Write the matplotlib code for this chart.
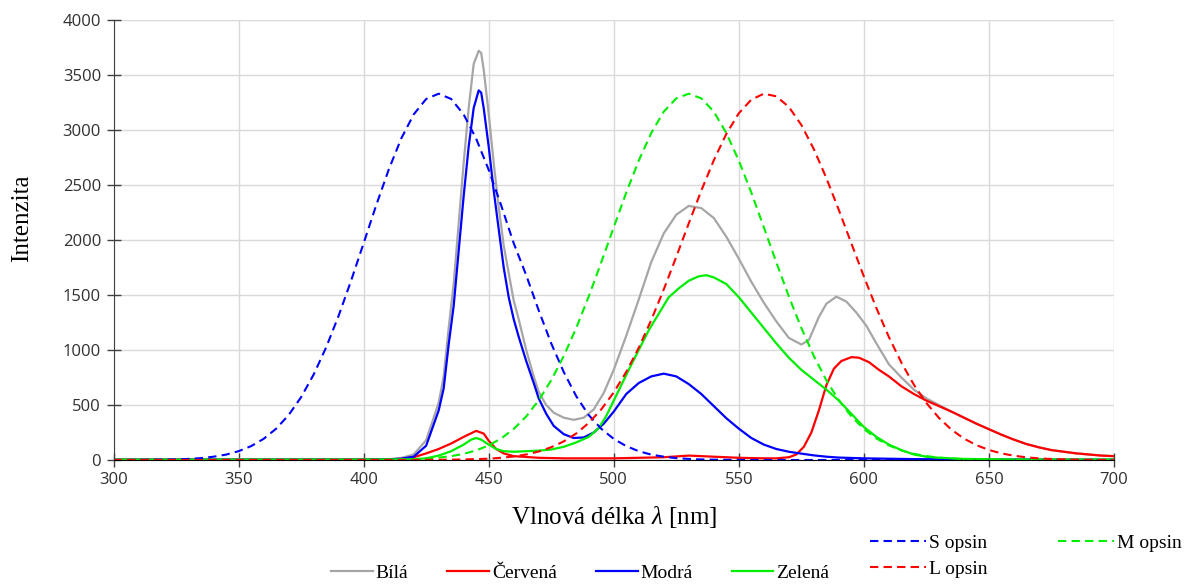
# spektra LED vs. citlivost opsinu
import numpy as np
import matplotlib.pyplot as plt

# --- data ---
wl_bila = [300, 350, 400, 405, 410, 415, 420, 425, 430, 432, 434, 436, 438, 440, 442, 444, 446, 447,
           448, 450, 452, 454, 456, 458, 460, 462, 465, 468, 470, 473, 476, 480, 484, 488, 492, 496,
           500, 505, 510, 515, 520, 525, 530, 535, 540, 545, 550, 555, 560, 565, 570, 575, 578, 582,
           585, 589, 593, 597, 601, 605, 610, 615, 620, 625, 630, 635, 640, 645, 650, 655, 660, 665,
           670, 675, 680, 685, 690, 695, 700]
bila = [3, 4, 4, 5, 8, 18, 50, 180, 520, 760, 1200, 1600, 2150, 2700, 3200, 3600, 3720, 3700,
        3550, 3150, 2700, 2300, 1950, 1700, 1450, 1280, 1000, 760, 620, 500, 430, 385, 365, 385, 460, 610,
        820, 1130, 1460, 1800, 2060, 2230, 2310, 2290, 2200, 2030, 1830, 1620, 1430, 1260, 1110, 1050, 1090, 1300,
        1420, 1485, 1440, 1340, 1220, 1060, 870, 750, 640, 560, 500, 440, 385, 330, 280, 230, 185, 145,
        115, 90, 75, 60, 50, 40, 35]

wl_cervena = [300, 350, 400, 410, 415, 420, 425, 430, 435, 440, 445, 448, 450, 453, 456, 460, 470, 480,
              500, 520, 530, 540, 550, 560, 565, 570, 573, 576, 579, 582, 585, 588, 591, 595, 598, 602,
              606, 610, 615, 620, 625, 630, 635, 640, 645, 650, 655, 660, 665, 670, 675, 680, 685, 690,
              695, 700]
cervena = [3, 3, 4, 5, 10, 25, 60, 100, 150, 210, 265, 240, 175, 100, 60, 35, 20, 15,
           15, 25, 40, 30, 20, 15, 15, 25, 50, 120, 250, 450, 680, 830, 900, 935, 930, 890,
           820, 760, 670, 600, 540, 490, 440, 385, 330, 280, 230, 185, 145, 115, 90, 75, 60, 50,
           40, 35]

wl_modra = [300, 350, 400, 410, 415, 420, 425, 430, 432, 434, 436, 438, 440, 442, 444, 446, 447, 448,
            450, 452, 454, 456, 458, 460, 462, 465, 468, 470, 473, 476, 480, 484, 488, 492, 496, 500,
            505, 510, 515, 520, 525, 530, 535, 540, 545, 550, 555, 560, 565, 570, 575, 580, 585, 590,
            600, 620, 650, 700]
modra = [2, 3, 3, 5, 12, 30, 130, 450, 650, 1050, 1400, 1900, 2400, 2850, 3200, 3360, 3340, 3200,
         2850, 2450, 2100, 1750, 1480, 1280, 1120, 900, 700, 560, 420, 310, 235, 200, 205, 250, 330, 440,
         600, 700, 760, 785, 760, 690, 600, 490, 380, 285, 200, 140, 100, 75, 58, 42, 30, 22,
         15, 8, 5, 3]

wl_zelena = [300, 350, 400, 420, 425, 430, 435, 440, 443, 445, 447, 450, 453, 456, 460, 465, 470, 475,
             480, 485, 490, 494, 497, 500, 503, 506, 510, 514, 518, 522, 526, 530, 534, 537, 540, 545,
             550, 555, 560, 565, 570, 575, 580, 585, 590, 595, 600, 605, 610, 615, 620, 625, 630, 640,
             660, 700]
zelena = [3, 4, 4, 6, 15, 40, 80, 140, 185, 200, 185, 140, 100, 80, 75, 80, 85, 95,
          120, 160, 210, 290, 400, 540, 680, 820, 1000, 1180, 1330, 1480, 1560, 1630, 1670, 1680, 1660, 1600,
          1480, 1340, 1200, 1060, 930, 820, 730, 640, 540, 420, 300, 210, 140, 90, 50, 30, 20, 10,
          5, 5]

# opsiny - po 5 nm
wl_opsin = list(range(300, 705, 5))
s_opsin = [0, 0, 1, 2, 3, 5, 10, 17, 30, 49, 80, 126, 192, 284, 408, 571, 776, 1023, 1311, 1631,
           1971, 2314, 2638, 2921, 3141, 3282, 3330, 3282, 3141, 2921, 2638, 2314, 1971, 1680, 1360, 1060,
           800, 580, 408, 284, 192, 126, 80, 49, 30, 17, 10, 5, 3, 2, 1, 0, 0, 0, 0, 0,
           0, 0, 0, 0, 0, 0, 0, 0, 0, 0, 0, 0, 0, 0, 0, 0, 0, 0, 0, 0, 0, 0, 0, 0, 0]
m_opsin = [0, 0, 0, 0, 0, 0, 0, 0, 0, 0, 0, 0, 0, 0, 0, 0, 0, 0, 0, 0,
           1, 1, 2, 4, 7, 13, 22, 35, 56, 87, 133, 196, 282, 396, 543, 725, 945, 1200, 1487, 1797,
           2116, 2431, 2722, 2973, 3167, 3288, 3330, 3288, 3167, 2973, 2722, 2431, 2116, 1797, 1487, 1200,
           945, 725, 543, 396, 282, 196, 133, 87, 56, 35, 22, 13, 7, 4, 2, 1, 1, 0, 0, 0, 0, 0, 0, 0, 0]
l_opsin = [0, 0, 0, 0, 0, 0, 0, 0, 0, 0, 0, 0, 0, 0, 0, 0, 0, 0, 0, 0,
           0, 0, 0, 0, 0, 1, 2, 3, 5, 8, 12, 20, 32, 50, 77, 116, 169, 241, 337, 460,
           614, 801, 1021, 1273, 1551, 1847, 2152, 2449, 2725, 2964, 3152, 3276, 3330, 3306, 3210, 3046,
           2826, 2563, 2272, 1969, 1668, 1381, 1118, 885, 684, 518, 383, 276, 195, 135, 91, 60, 39, 24,
           15, 9, 6, 3, 2, 1, 1]

c_gray, c_red, c_blue, c_green = '#a6a6a6', '#ff0000', '#0000ff', '#00ee00'

plt.rcParams['mathtext.fontset'] = 'custom'
plt.rcParams['mathtext.rm'] = 'Liberation Serif'
plt.rcParams['mathtext.it'] = 'Liberation Serif:italic'

fig = plt.figure(figsize=(11.96, 5.87), dpi=100)
ax = fig.add_axes([113.5 / 1196, 1 - 460 / 587, (1114 - 113.5) / 1196, 440 / 587])

l_b, = ax.plot(wl_bila, bila, color=c_gray, lw=1.6, label='Bílá')
l_c, = ax.plot(wl_cervena, cervena, color=c_red, lw=1.6, label='Červená')
l_m, = ax.plot(wl_modra, modra, color=c_blue, lw=1.6, label='Modrá')
l_z, = ax.plot(wl_zelena, zelena, color=c_green, lw=1.6, label='Zelená')
dash = (4, 2.5)
l_s, = ax.plot(wl_opsin, s_opsin, color=c_blue, lw=1.5, dashes=dash, label='S opsin')
l_mo, = ax.plot(wl_opsin, m_opsin, color=c_green, lw=1.5, dashes=dash, label='M opsin')
l_l, = ax.plot(wl_opsin, l_opsin, color=c_red, lw=1.5, dashes=dash, label='L opsin')

ax.set_xlim(300, 700)
ax.set_ylim(0, 4000)
ax.set_xticks(np.arange(300, 701, 50))
ax.set_yticks(np.arange(0, 4001, 500))
ax.grid(True, color='#d9d9d9', lw=1)
ax.set_axisbelow(True)
for s in ['top', 'right']:
    ax.spines[s].set_visible(False)
ax.spines['left'].set_color('#404040')
ax.spines['bottom'].set_color('black')
ax.tick_params(direction='inout', length=10, width=1, color='#404040', pad=4,
               labelsize=12, labelcolor='#303030')
for lab in ax.get_xticklabels() + ax.get_yticklabels():
    lab.set_family('Open Sans')

ax.set_xlabel(r'Vlnová délka $\it{\lambda}$ [nm]', family='Liberation Serif', fontsize=18)
ax.set_ylabel('Intenzita', family='Liberation Serif', fontsize=18)
ax.xaxis.set_label_coords(0.5, -0.1)
ax.yaxis.set_label_coords(-0.08, 0.55)

prop = {'family': 'Liberation Serif', 'size': 14}
fig.legend(handles=[l_b, l_c, l_m, l_z], ncol=4, loc='center left',
           bbox_to_anchor=(331 / 1196, 1 - 573 / 587), frameon=False, prop=prop,
           handlelength=2.15, handletextpad=0.15, columnspacing=2.0, borderpad=0, borderaxespad=0)
fig.legend(handles=[l_s, l_l, l_mo], ncol=2, loc='center left',
           bbox_to_anchor=(870 / 1196, 1 - 556 / 587), frameon=False, prop=prop,
           handlelength=2.9, handletextpad=0.15, columnspacing=3.6, labelspacing=0.45,
           borderpad=0, borderaxespad=0)

fig.savefig('out.png', dpi=100)
plt.close('all')
